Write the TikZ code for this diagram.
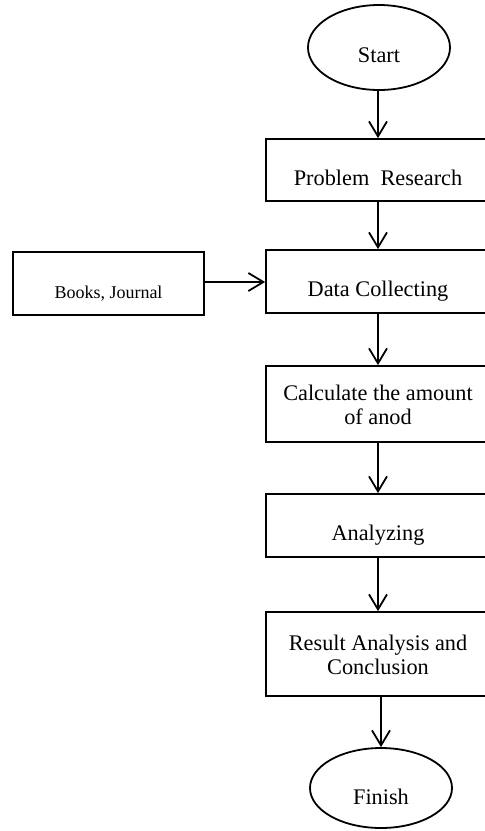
\documentclass[tikz,border=0pt]{standalone}
\usepackage{fontspec}
\setmainfont{Liberation Serif}
\usetikzlibrary{shapes.geometric,arrows.meta,calc}
\begin{document}
\begin{tikzpicture}[x=1pt,y=-1pt,
  box/.style={draw,line width=1.8pt,minimum width=224pt,inner sep=0pt},
  sidebox/.style={draw,line width=1.8pt,minimum width=191pt,minimum height=63pt,inner sep=0pt},
  oval/.style={draw,ellipse,line width=1.8pt,minimum width=142pt,inner sep=0pt},
  txt/.style={font=\fontsize{22.3}{24}\selectfont,anchor=base,inner sep=0pt},
  mtxt/.style={font=\fontsize{22.3}{24}\selectfont,align=center,inner sep=0pt},
  flow/.style={line width=1.8pt,-{Straight Barb[length=15pt,width=18pt,line width=1.8pt]}}]
\clip (0,0) rectangle (485,831);
\fill[white] (0,0) rectangle (485,831);
% shapes
\node[oval,minimum height=85pt] (start) at (379,47.5) {};
\node[box,minimum height=62pt] (pr) at (378,170) {};
\node[box,minimum height=63pt] (dc) at (378,281.5) {};
\node[sidebox] (bk) at (108.5,283.5) {};
\node[box,minimum height=76pt] (calc) at (378,404) {};
\node[box,minimum height=63pt] (an) at (378,525.5) {};
\node[box,minimum height=84pt] (res) at (378,654) {};
\node[oval,minimum height=80pt] (fin) at (381,788) {};
% texts
\node[txt] (tstart) at ($(start.center)+(0,15)$) {Start};
\node[txt] (tpr) at ($(pr.center)+(0,15)$) {Problem\hspace{0.5em}Research};
\node[txt] (tdc) at ($(dc.center)+(0,15)$) {Data Collecting};
\node[txt,font=\fontsize{18}{21}\selectfont] (tbk) at ($(bk.center)+(0,14.5)$) {Books, Journal};
\node[mtxt] (tcalc) at ($(calc.center)+(0,1)$) {Calculate the amount\\of anod};
\node[txt] (tan) at ($(an.center)+(0,15)$) {Analyzing};
\node[mtxt] (tres) at ($(res.center)+(0,1)$) {Result Analysis and\\Conclusion};
\node[txt] (tfin) at ($(fin.center)+(0,16)$) {Finish};
% connectors
\draw[flow] (start.south -| pr.north) -- (pr.north);
\draw[flow] (pr.south) -- (dc.north);
\draw[flow] (bk.east |- 0,282) -- (dc.west |- 0,282);
\draw[flow] (dc.south) -- (calc.north);
\draw[flow] (calc.south) -- (an.north);
\draw[flow] (an.south) -- (res.north);
\draw[flow] (res.south -| fin.north) -- (fin.north);
\end{tikzpicture}
\end{document}
